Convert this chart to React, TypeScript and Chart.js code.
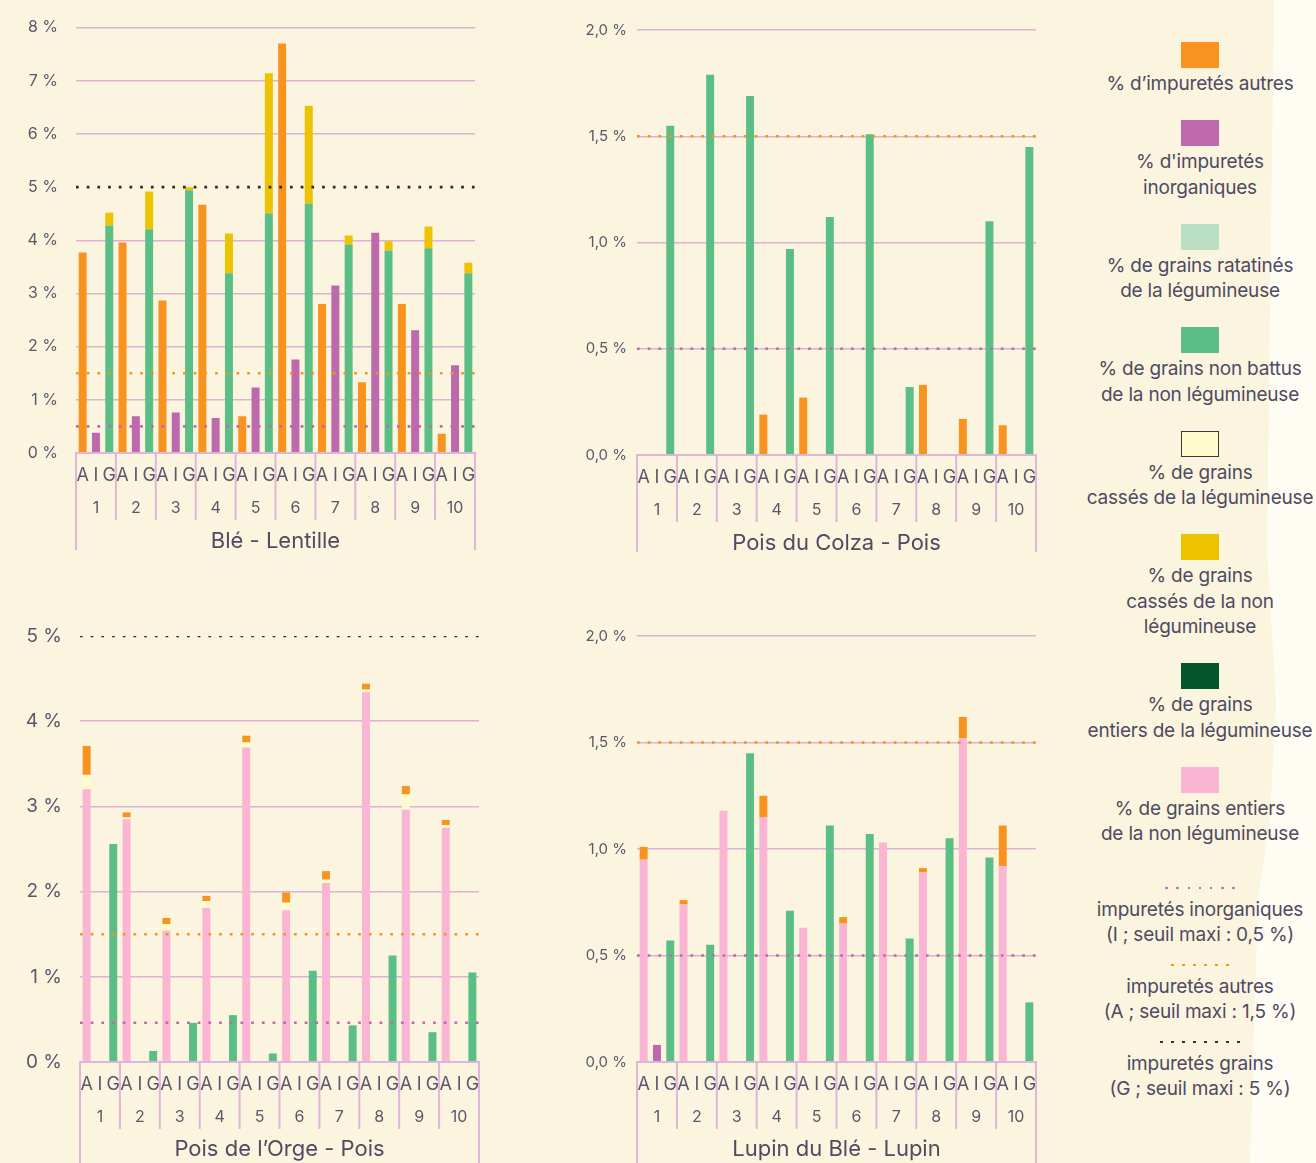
import React, { useEffect, useRef } from 'react';
import { Chart, registerables } from 'chart.js';

Chart.register(...registerables);

// ---------- categories ----------
const GROUPS = ['1', '2', '3', '4', '5', '6', '7', '8', '9', '10'];
const SLOT_NAMES = ['A', 'I', 'G'];
const SLOTS = GROUPS.flatMap(() => SLOT_NAMES);

// ---------- thresholds ----------
const LIMIT_I = 0.5;
const LIMIT_I_ORGE = 0.46;
const LIMIT_A = 1.5;
const LIMIT_G = 5;

// ---------- Blé - Lentille ----------
const BL_AUTRES = [3.77, 3.96, 2.87, 4.67, 0.69, 7.7, 2.8, 1.33, 2.8, 0.36];
const BL_INORG = [0.38, 0.69, 0.76, 0.66, 1.23, 1.76, 3.15, 4.14, 2.31, 1.65];
const BL_NONBATTUS = [4.28, 4.21, 4.94, 3.38, 4.51, 4.69, 3.92, 3.81, 3.85, 3.38];
const BL_CASSES_NL = [0.24, 0.71, 0.06, 0.75, 2.63, 1.84, 0.17, 0.17, 0.41, 0.2];

// ---------- Pois du Colza - Pois ----------
const PC_AUTRES = [0, 0, 0, 0.19, 0.27, 0, 0, 0.33, 0.17, 0.14];
const PC_NONBATTUS = [1.55, 1.79, 1.69, 0.97, 1.12, 1.51, 0.32, 0, 1.1, 1.45];

// ---------- Pois de l'Orge - Pois ----------
const PO_ENTIERS_NL = [3.2, 2.85, 1.54, 1.81, 3.69, 1.78, 2.1, 4.34, 2.96, 2.75];
const PO_CASSES_L = [0.17, 0.02, 0.08, 0.08, 0.06, 0.09, 0.04, 0.03, 0.18, 0.03];
const PO_AUTRES = [0.34, 0.06, 0.07, 0.06, 0.08, 0.12, 0.1, 0.07, 0.1, 0.06];
const PO_NONBATTUS = [2.56, 0.13, 0.46, 0.55, 0.1, 1.07, 0.43, 1.25, 0.35, 1.05];

// ---------- Lupin du Blé - Lupin ----------
const LB_ENTIERS_NL = [0.95, 0.74, 1.18, 1.15, 0.63, 0.65, 1.03, 0.89, 1.52, 0.92];
const LB_AUTRES = [0.06, 0.02, 0, 0.1, 0, 0.03, 0, 0.02, 0.1, 0.19];
const LB_INORG = [0.08, 0, 0, 0, 0, 0, 0, 0, 0, 0];
const LB_NONBATTUS = [0.57, 0.55, 1.45, 0.71, 1.11, 1.07, 0.58, 1.05, 0.96, 0.28];

// ---------- styles ----------
const C_ORANGE = '#F7931E';
const C_PURPLE = '#BD69AB';
const C_LIGHTGREEN = '#BADFC2';
const C_GREEN = '#5BBF85';
const C_PALE = '#FFFBCA';
const C_YELLOW = '#EDC300';
const C_DARKGREEN = '#03562A';
const C_PINK = '#F9B5D3';
const C_BLACK = '#2A2A2A';
const GRID = '#DDB2D6';
const BOX = '#E0B5DA';
const TICK = '#5A576D';
const TEXT = '#4E4B62';
const FONT = 'Inter, "Noto Sans", sans-serif';

const LEGEND_SWATCHES = [
  { color: C_ORANGE, lines: ['% d’impuretés autres'] },
  { color: C_PURPLE, lines: ["% d'impuretés", 'inorganiques'] },
  { color: C_LIGHTGREEN, lines: ['% de grains ratatinés', 'de la légumineuse'] },
  { color: C_GREEN, lines: ['% de grains non battus', 'de la non légumineuse'] },
  { color: C_PALE, outlined: true, lines: ['% de grains', 'cassés de la légumineuse'] },
  { color: C_YELLOW, lines: ['% de grains', 'cassés de la non', 'légumineuse'] },
  { color: C_DARKGREEN, lines: ['% de grains', 'entiers de la légumineuse'] },
  { color: C_PINK, lines: ['% de grains entiers', 'de la non légumineuse'] },
];
const LEGEND_LINES = [
  { color: '#C46CB8', dots: 7, lines: ['impuretés inorganiques', '(I ; seuil maxi : 0,5 %)'] },
  { color: C_ORANGE, dots: 6, lines: ['impuretés autres', '(A ; seuil maxi : 1,5 %)'] },
  { color: '#333333', dots: 8, lines: ['impuretés grains', '(G ; seuil maxi : 5 %)'] },
];

// spread a per-group series onto its A / I / G slot of the 30-slot axis
function toSlots(values: number[], slot: string): (number | null)[] {
  const k = SLOT_NAMES.indexOf(slot);
  const out: (number | null)[] = SLOTS.map(() => null);
  values.forEach((v, g) => {
    out[g * 3 + k] = v;
  });
  return out;
}

const boxPlugin = {
  id: 'groupBox',
  afterDraw(chart: any, _args: any, opts: any) {
    const { ctx, chartArea } = chart;
    const xs = chart.scales.x;
    const n = xs.getLabels().length;
    const top = chartArea.bottom;
    const innerEnd = xs.top + 30;
    const outerEnd = chart.height - (opts.outerGap || 0);
    ctx.save();
    ctx.strokeStyle = BOX;
    ctx.lineWidth = 2;
    ctx.beginPath();
    ctx.moveTo(chartArea.left - 1, top);
    ctx.lineTo(chartArea.right + 1, top);
    for (let i = 0; i <= n; i++) {
      const px = xs.getPixelForValue(i - 0.5);
      const end = i === 0 || i === n ? outerEnd : innerEnd;
      ctx.moveTo(px, top);
      ctx.lineTo(px, end);
    }
    ctx.stroke();
    ctx.restore();
  },
};

type Bar = { label: string; data: number[]; color: string; slot: string };
type Thr = { value: number; color: string };
type Spec = {
  bars: Bar[];
  thresholds: Thr[];
  yMax: number;
  yStep: number;
  decimals: boolean;
  yFont: number;
  yWidth: number;
  yPad: number;
  padTop: number;
  padRight: number;
  xHeight: number;
  title: string;
  titlePadBottom: number;
  outerGap: number;
  hideGridAt?: number;
};

const noPad = (sc: any) => {
  sc.paddingLeft = 0;
  sc.paddingRight = 0;
};

function buildConfig(s: Spec): any {
  const datasets: any[] = s.bars.map((b) => ({
    type: 'bar',
    label: b.label,
    data: toSlots(b.data, b.slot),
    backgroundColor: b.color,
    borderWidth: 0,
    stack: 'col',
    grouped: false,
    xAxisID: 'x2',
    yAxisID: 'y',
    barPercentage: 0.6,
    categoryPercentage: 1,
    order: 1,
  }));
  s.thresholds.forEach((t, i) => {
    datasets.push({
      type: 'line',
      label: 'seuil ' + i,
      data: [
        { x: 0, y: t.value },
        { x: 1, y: t.value },
      ],
      xAxisID: 'xl',
      yAxisID: 'yl',
      borderColor: t.color,
      borderWidth: 2.6,
      borderDash: [2.7, 8],
      borderCapStyle: 'butt',
      pointRadius: 0,
      fill: false,
      order: 0,
    });
  });
  return {
    type: 'bar',
    data: { labels: GROUPS, datasets },
    plugins: [boxPlugin],
    options: {
      responsive: false,
      animation: false,
      devicePixelRatio: 1,
      layout: { padding: { top: s.padTop, right: s.padRight, left: 0, bottom: 0 } },
      plugins: {
        legend: { display: false },
        tooltip: { enabled: false },
        groupBox: { outerGap: s.outerGap },
      },
      scales: {
        x: {
          type: 'category',
          axis: 'x',
          position: 'bottom',
          weight: 1,
          offset: true,
          grid: { display: false },
          border: { display: false },
          ticks: {
            color: TICK,
            font: { family: FONT, size: 16 },
            padding: 1,
            autoSkip: false,
            maxRotation: 0,
          },
          title: {
            display: true,
            text: s.title,
            color: TEXT,
            font: { family: FONT, size: 22 },
            padding: { top: 0, bottom: s.titlePadBottom },
          },
          afterFit: (sc: any) => {
            sc.height = s.xHeight;
            noPad(sc);
          },
        },
        x2: {
          type: 'category',
          axis: 'x',
          position: 'bottom',
          weight: 0,
          labels: SLOTS,
          offset: true,
          stacked: true,
          grid: { display: false },
          border: { display: false },
          ticks: {
            color: TICK,
            font: { family: FONT, size: 18 },
            padding: 4.2,
            autoSkip: false,
            maxRotation: 0,
          },
          afterFit: (sc: any) => {
            sc.height = 37;
            noPad(sc);
          },
        },
        xl: {
          type: 'linear',
          axis: 'x',
          position: 'bottom',
          display: false,
          offset: false,
          min: 0,
          max: 1,
        },
        yl: {
          type: 'linear',
          axis: 'y',
          position: 'left',
          display: false,
          min: 0,
          max: s.yMax,
        },
        y: {
          type: 'linear',
          axis: 'y',
          position: 'left',
          stacked: true,
          min: 0,
          max: s.yMax,
          border: { display: false },
          grid: {
            drawTicks: false,
            lineWidth: 1.5,
            color: (c: any) =>
              s.hideGridAt !== undefined && c.tick && Math.abs(c.tick.value - s.hideGridAt) < 1e-9
                ? 'rgba(0,0,0,0)'
                : GRID,
          },
          ticks: {
            stepSize: s.yStep,
            color: TICK,
            padding: s.yPad,
            font: { family: FONT, size: s.yFont },
            callback: (v: any) =>
              (s.decimals ? Number(v).toFixed(1).replace('.', ',') : String(v)) + ' %',
          },
          afterFit: (sc: any) => {
            sc.width = s.yWidth;
          },
        },
      },
    },
  };
}

const makeBL = () =>
  buildConfig({
    bars: [
      { label: '% d’impuretés autres', data: BL_AUTRES, color: C_ORANGE, slot: 'A' },
      { label: "% d'impuretés inorganiques", data: BL_INORG, color: C_PURPLE, slot: 'I' },
      { label: '% de grains non battus de la non légumineuse', data: BL_NONBATTUS, color: C_GREEN, slot: 'G' },
      { label: '% de grains cassés de la non légumineuse', data: BL_CASSES_NL, color: C_YELLOW, slot: 'G' },
    ],
    thresholds: [
      { value: LIMIT_I, color: C_PURPLE },
      { value: LIMIT_A, color: C_ORANGE },
      { value: LIMIT_G, color: C_BLACK },
    ],
    yMax: 8,
    yStep: 1,
    decimals: false,
    yFont: 16,
    yWidth: 76,
    yPad: 18,
    padTop: 27,
    padRight: 5,
    xHeight: 70,
    title: 'Blé - Lentille',
    titlePadBottom: 5.8,
    outerGap: 10,
    hideGridAt: LIMIT_G,
  });

const makePC = () =>
  buildConfig({
    bars: [
      { label: '% d’impuretés autres', data: PC_AUTRES, color: C_ORANGE, slot: 'A' },
      { label: '% de grains non battus de la non légumineuse', data: PC_NONBATTUS, color: C_GREEN, slot: 'G' },
    ],
    thresholds: [
      { value: LIMIT_I, color: C_PURPLE },
      { value: LIMIT_A, color: C_ORANGE },
    ],
    yMax: 2,
    yStep: 0.5,
    decimals: true,
    yFont: 15,
    yWidth: 97,
    yPad: 10,
    padTop: 30,
    padRight: 4,
    xHeight: 68,
    title: 'Pois du Colza - Pois',
    titlePadBottom: 3.8,
    outerGap: 8,
  });

const makePO = () =>
  buildConfig({
    bars: [
      { label: '% de grains entiers de la non légumineuse', data: PO_ENTIERS_NL, color: C_PINK, slot: 'A' },
      { label: '% de grains cassés de la légumineuse', data: PO_CASSES_L, color: C_PALE, slot: 'A' },
      { label: '% d’impuretés autres', data: PO_AUTRES, color: C_ORANGE, slot: 'A' },
      { label: '% de grains non battus de la non légumineuse', data: PO_NONBATTUS, color: C_GREEN, slot: 'G' },
    ],
    thresholds: [
      { value: LIMIT_I_ORGE, color: C_PURPLE },
      { value: LIMIT_A, color: C_ORANGE },
      { value: LIMIT_G, color: C_BLACK },
    ],
    yMax: 5,
    yStep: 1,
    decimals: false,
    yFont: 19,
    yWidth: 80,
    yPad: 18,
    padTop: 36,
    padRight: 3,
    xHeight: 64,
    title: 'Pois de l’Orge - Pois',
    titlePadBottom: 0.8,
    outerGap: 0,
    hideGridAt: LIMIT_G,
  });

const makeLB = () =>
  buildConfig({
    bars: [
      { label: '% de grains entiers de la non légumineuse', data: LB_ENTIERS_NL, color: C_PINK, slot: 'A' },
      { label: '% d’impuretés autres', data: LB_AUTRES, color: C_ORANGE, slot: 'A' },
      { label: "% d'impuretés inorganiques", data: LB_INORG, color: C_PURPLE, slot: 'I' },
      { label: '% de grains non battus de la non légumineuse', data: LB_NONBATTUS, color: C_GREEN, slot: 'G' },
    ],
    thresholds: [
      { value: LIMIT_I, color: C_PURPLE },
      { value: LIMIT_A, color: C_ORANGE },
    ],
    yMax: 2,
    yStep: 0.5,
    decimals: true,
    yFont: 15,
    yWidth: 97,
    yPad: 10,
    padTop: 36,
    padRight: 4,
    xHeight: 64,
    title: 'Lupin du Blé - Lupin',
    titlePadBottom: 0,
    outerGap: 0,
  });

function ChartCanvas(props: { left: number; top: number; width: number; height: number; make: () => any }) {
  const ref = useRef<HTMLCanvasElement>(null);
  useEffect(() => {
    const chart = new Chart(ref.current as HTMLCanvasElement, props.make());
    return () => chart.destroy();
  }, []);
  return (
    <canvas
      ref={ref}
      width={props.width}
      height={props.height}
      style={{ position: 'absolute', left: props.left, top: props.top, width: props.width, height: props.height }}
    />
  );
}

function Legend() {
  const textStyle: React.CSSProperties = { lineHeight: '25.5px', whiteSpace: 'nowrap' };
  return (
    <div
      style={{
        position: 'absolute',
        left: 1076,
        top: 42,
        width: 248,
        display: 'flex',
        flexDirection: 'column',
        textAlign: 'center',
        fontFamily: FONT,
        fontSize: 19,
        color: TEXT,
        letterSpacing: '-0.2px',
      }}
    >
      {LEGEND_SWATCHES.map((it, i) => (
        <div key={i} style={{ marginBottom: 23.5 }}>
          <div
            style={{
              width: 38,
              height: 26,
              margin: '0 auto 3px',
              background: it.color,
              boxSizing: 'border-box',
              border: it.outlined ? '1px solid #3A3A3A' : 'none',
            }}
          />
          {it.lines.map((l, j) => (
            <div key={j} style={textStyle}>
              {l}
            </div>
          ))}
        </div>
      ))}
      {LEGEND_LINES.map((it, i) => (
        <div key={'l' + i} style={{ marginTop: i === 0 ? 16.5 : 16 }}>
          <div style={{ display: 'flex', justifyContent: 'center', gap: 8.3, height: 3, marginBottom: 7 }}>
            {Array.from({ length: it.dots }).map((_, k) => (
              <span key={k} style={{ width: 2.8, height: 2.8, background: it.color, display: 'block' }} />
            ))}
          </div>
          {it.lines.map((l, j) => (
            <div key={j} style={textStyle}>
              {l}
            </div>
          ))}
        </div>
      ))}
    </div>
  );
}

export default function App() {
  return (
    <div
      style={{
        position: 'absolute',
        left: 0,
        top: 0,
        width: 1316,
        height: 1163,
        overflow: 'hidden',
        background: '#FBF5DF',
      }}
    >
      <div
        style={{
          position: 'absolute',
          inset: 0,
          background: '#FEFCF3',
          clipPath:
            'polygon(1274px 0px, 1316px 0px, 1316px 1163px, 1250px 1163px, 1258px 900px, 1270px 820px, 1276px 700px, 1267px 550px)',
        }}
      />
      <ChartCanvas left={0} top={0} width={480} height={560} make={makeBL} />
      <ChartCanvas left={540} top={0} width={500} height={560} make={makePC} />
      <ChartCanvas left={0} top={600} width={482} height={563} make={makePO} />
      <ChartCanvas left={540} top={600} width={500} height={563} make={makeLB} />
      <Legend />
    </div>
  );
}
